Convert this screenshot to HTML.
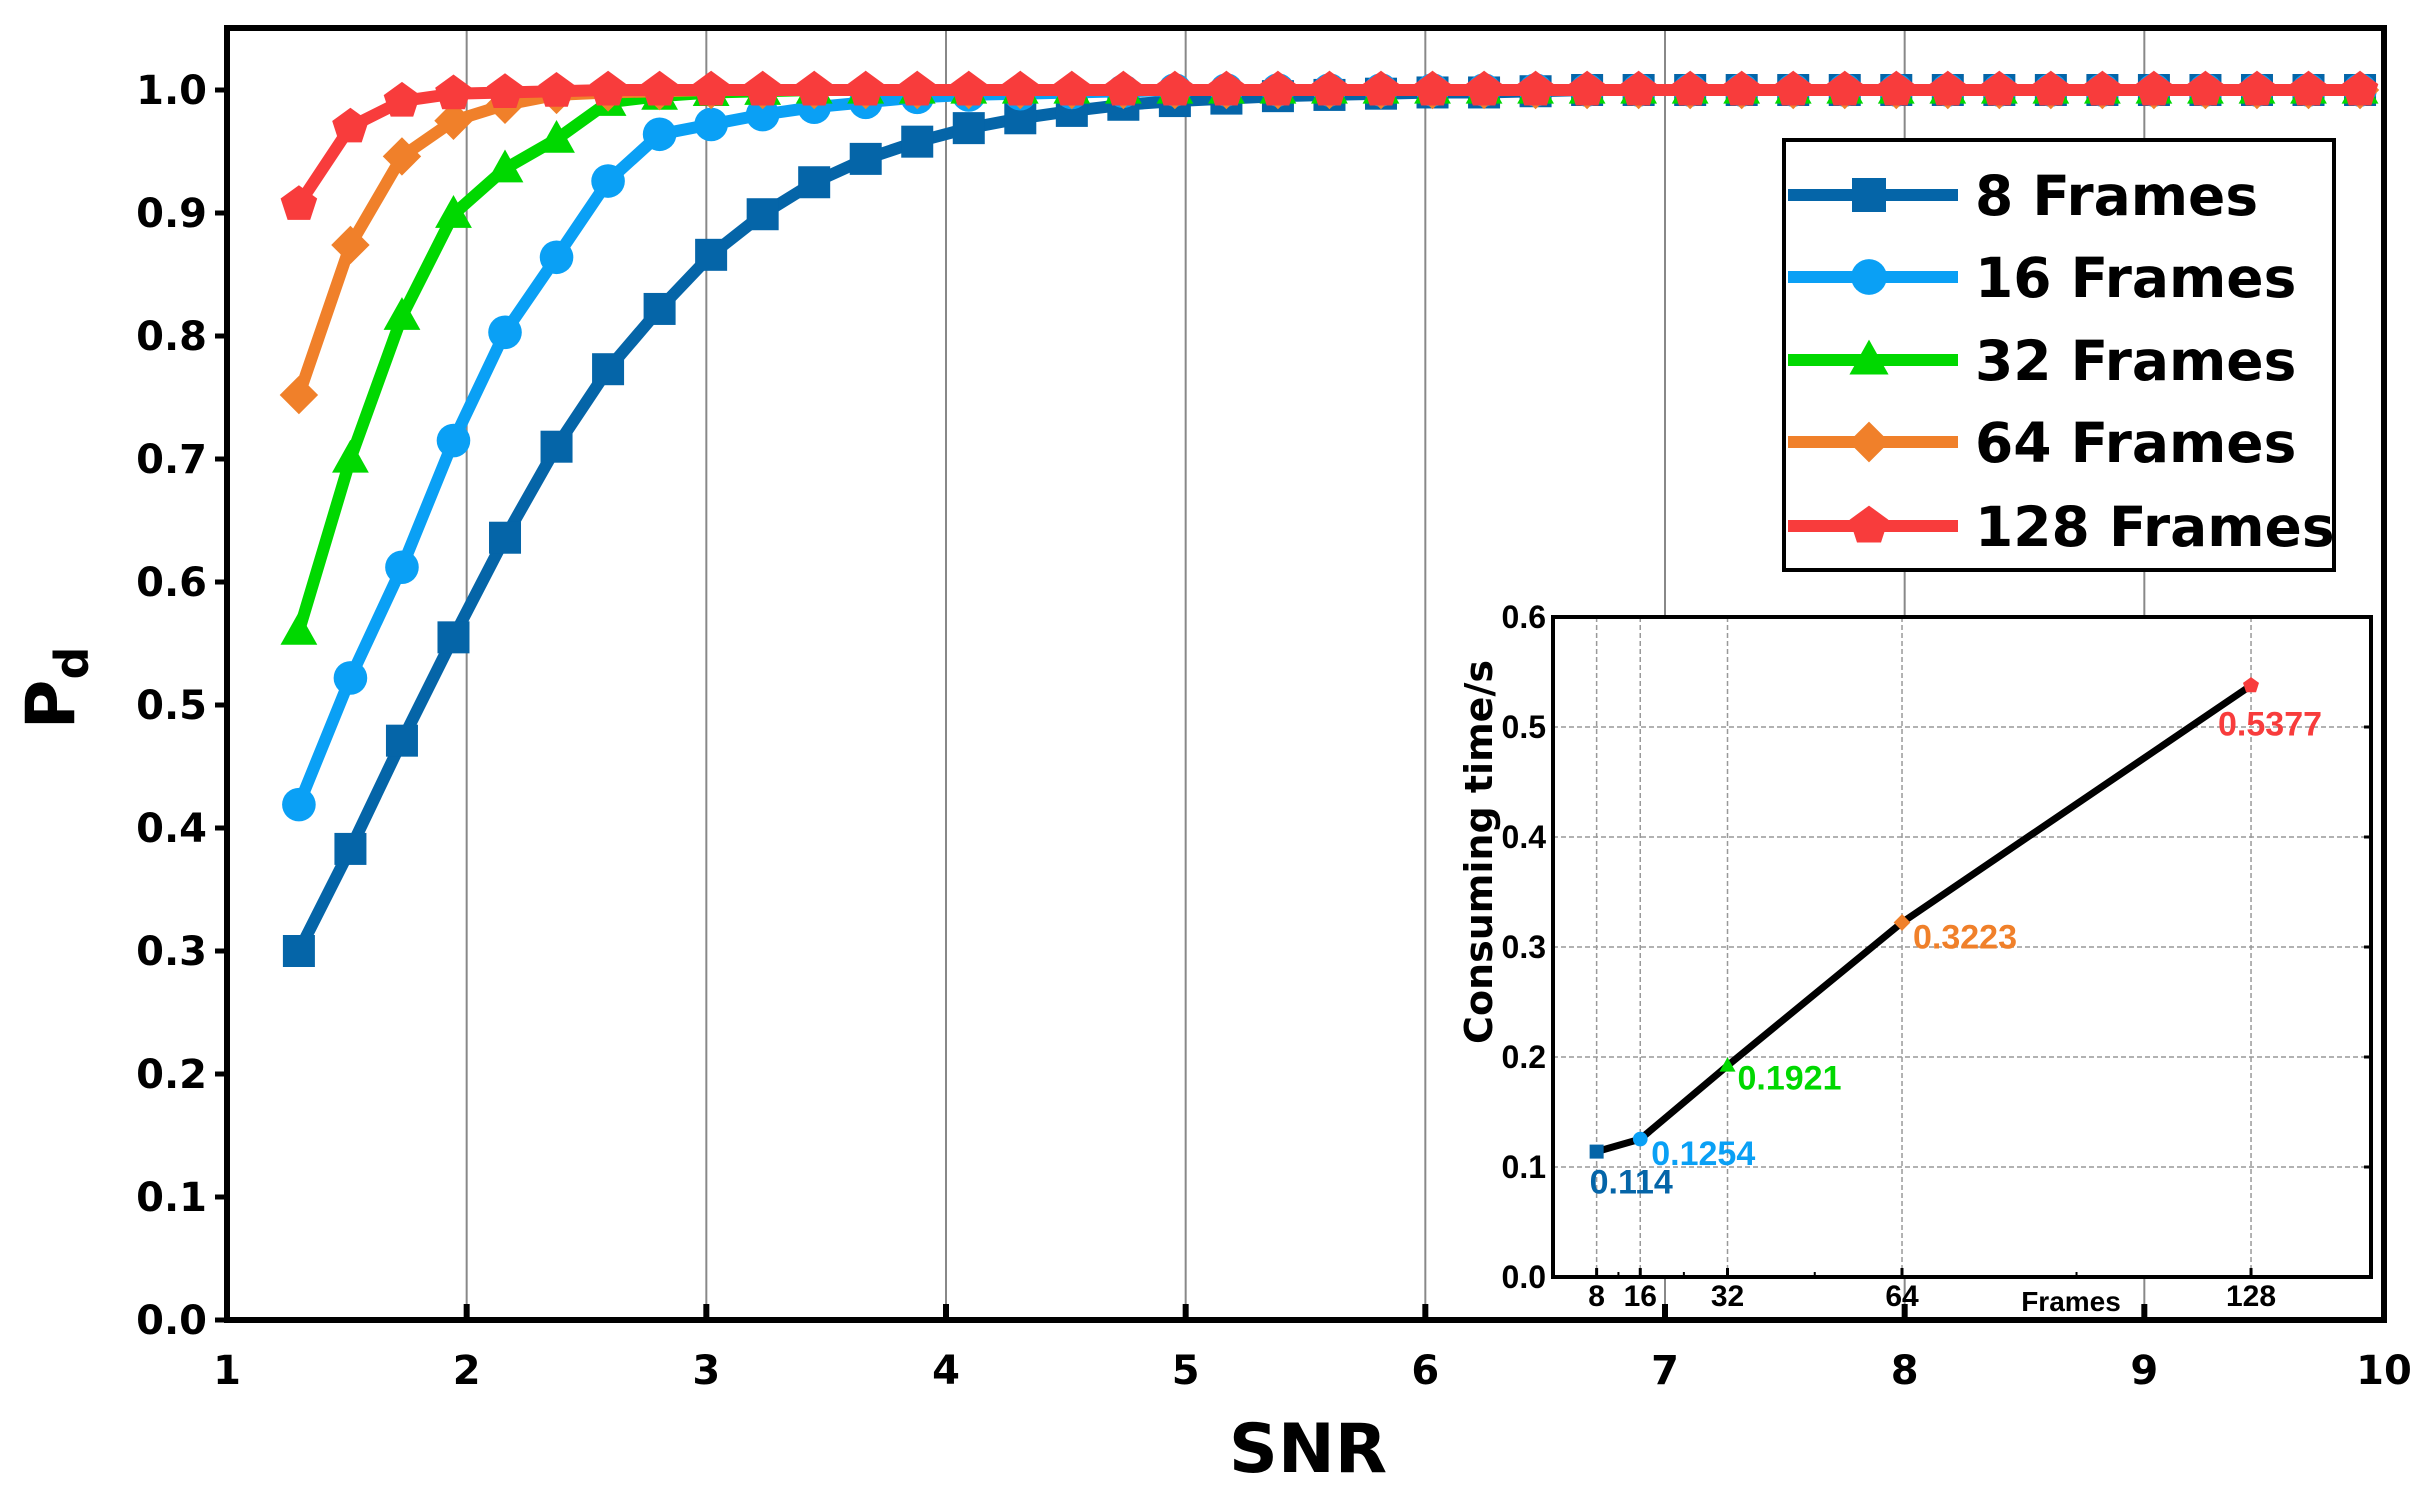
<!DOCTYPE html>
<html><head><meta charset="utf-8"><style>
html,body{margin:0;padding:0;background:#fff;}
svg{display:block;}
text{font-family:"DejaVu Sans","Liberation Sans",sans-serif;font-weight:bold;}
.in text{font-family:"Liberation Sans",sans-serif;}
</style></head><body>
<svg id="chart" width="2430" height="1492" viewBox="0 0 2430 1492" xmlns="http://www.w3.org/2000/svg"></svg>
<script>
const snrStart = 1.3, snrStep = 0.215, nPts = 41;
const s8 = [0.300,0.383,0.471,0.555,0.636,0.710,0.773,0.822,0.866,0.899,0.925,0.944,0.958,0.969,0.977,0.983,0.988,0.991,0.993,0.995,0.996,0.997,0.998,0.998,0.999];
const s16 = [0.419,0.522,0.612,0.715,0.803,0.864,0.926,0.964,0.972,0.980,0.986,0.990,0.994,0.996,0.997,0.998,0.999];
const s32 = [0.560,0.700,0.816,0.899,0.936,0.960,0.990,0.995,0.998,0.999];
const s64 = [0.752,0.874,0.946,0.975,0.988,0.996,0.998,0.999];
const s128 = [0.907,0.970,0.991,0.997,0.998,0.999];
const seriesNames = ["8 Frames","16 Frames","32 Frames","64 Frames","128 Frames"];
const seriesColors = ["#0565a8","#0aa0f5","#00d800","#f0802a","#f83c3c"];
const xTicks = [1,2,3,4,5,6,7,8,9,10];
const yTicks = [0,0.1,0.2,0.3,0.4,0.5,0.6,0.7,0.8,0.9,1.0];
const insetFrames = [8,16,32,64,128];
const insetTimes = [0.114,0.1254,0.1921,0.3223,0.5377];
const insetLabels = ["0.114","0.1254","0.1921","0.3223","0.5377"];
const insetYTicks = [0,0.1,0.2,0.3,0.4,0.5,0.6];
const insetMinor = [12,24,48,96];

const NS="http://www.w3.org/2000/svg";
const svg=document.getElementById('chart');
function mk(tag,attrs,parent){const e=document.createElementNS(NS,tag);for(const k in attrs)e.setAttribute(k,attrs[k]);(parent||svg).appendChild(e);return e;}
const L=227,R=2384,T=28,B=1320;
const X=v=>L+(v-1)*(R-L)/9;
const Y=v=>B-v*1230;

for(const t of xTicks){ if(t>1&&t<10){const g=mk('line',{x1:X(t),x2:X(t),y1:T,y2:B,stroke:'#888','stroke-width':2});

}}
function fullSeries(arr){const out=[];for(let i=0;i<nPts;i++)out.push(i<arr.length?arr[i]:1.0);return out;}
const allSeries=[s8,s16,s32,s64,s128].map(fullSeries);
function marker(kind,cx,cy,r,color,parent){
  let e;
  if(kind===0) e=mk('rect',{x:cx-r,y:cy-r,width:2*r,height:2*r,fill:color},parent);
  else if(kind===1) e=mk('circle',{cx:cx,cy:cy,r:r*1.05,fill:color},parent);
  else if(kind===2) e=mk('polygon',{points:`${cx},${cy-r*1.2} ${cx+r*1.15},${cy+r*0.85} ${cx-r*1.15},${cy+r*0.85}`,fill:color},parent);
  else if(kind===3) e=mk('polygon',{points:`${cx},${cy-r*1.2} ${cx+r*1.2},${cy} ${cx},${cy+r*1.2} ${cx-r*1.2},${cy}`,fill:color},parent);
  else {let p=[];for(let k=0;k<5;k++){const a=-Math.PI/2+k*2*Math.PI/5;p.push((cx+r*1.2*Math.cos(a)).toFixed(1)+','+(cy+r*1.2*Math.sin(a)).toFixed(1));}
    e=mk('polygon',{points:p.join(' '),fill:color},parent);}
  return e;
}
allSeries.forEach((vals,si)=>{
  const g=mk('g',{});
  
  
  const pts=vals.map((v,i)=>X(snrStart+i*snrStep).toFixed(1)+','+Y(v).toFixed(1)).join(' ');
  mk('polyline',{points:pts,fill:'none',stroke:seriesColors[si],'stroke-width':12,'stroke-linejoin':'round'},g);
  vals.forEach((v,i)=>{const m=marker(si,X(snrStart+i*snrStep),Y(v),16,seriesColors[si],g);
    
    });
});
const fr=mk('rect',{x:L,y:T,width:R-L,height:B-T,fill:'none',stroke:'#000','stroke-width':6});


for(const t of xTicks){mk('line',{x1:X(t),x2:X(t),y1:B,y2:B-16,stroke:'#000','stroke-width':6});
  const tx=mk('text',{x:X(t),y:1384,'font-size':40,'text-anchor':'middle'});tx.textContent=t;
  
  }
for(const t of yTicks){mk('line',{x1:L,x2:L-12,y1:Y(t),y2:Y(t),stroke:'#000','stroke-width':5});
  const tx=mk('text',{x:207,y:Y(t)+14,'font-size':40,'text-anchor':'end'});tx.textContent=t.toFixed(1);
  
  }
const xt=mk('text',{x:1308,y:1472,'font-size':68,'text-anchor':'middle'});xt.textContent='SNR';


const yt=mk('text',{x:0,y:0,'font-size':68,'text-anchor':'middle',transform:'translate(74,688) rotate(-90)'});
yt.innerHTML='P<tspan font-size="46" dy="14">d</tspan>';



const lg=mk('g',{});


mk('rect',{x:1784,y:140,width:550,height:430,fill:'#fff',stroke:'#000','stroke-width':4},lg);
const rowY=[195,277,360,442,526];
seriesNames.forEach((n,i)=>{
  const e=mk('g',{},lg);
  
  
  mk('line',{x1:1788,x2:1958,y1:rowY[i],y2:rowY[i],stroke:seriesColors[i],'stroke-width':12},e);
  marker(i,1869,rowY[i],17,seriesColors[i],e);
  const t=mk('text',{x:1975,y:rowY[i]+20,'font-size':55},e);t.textContent=n;
});

const ig=mk('g',{class:'in'});


const IL=1553,IR=2371,IT=617,IB=1277;
const IX=v=>IL+v*(IR-IL)/150;
const IY=v=>IB-v*(IB-IT)/0.6;
mk('rect',{x:IL,y:IT,width:IR-IL,height:IB-IT,fill:'#fff'},ig);
for(const t of insetYTicks){ if(t>0&&t<0.6) mk('line',{x1:IL,x2:IR,y1:IY(t),y2:IY(t),stroke:'#999','stroke-width':1.5,'stroke-dasharray':'5,3'},ig);
  mk('line',{x1:IR,x2:IR-7,y1:IY(t),y2:IY(t),stroke:'#000','stroke-width':3},ig);
  const tx=mk('text',{x:1546,y:IY(t)+11,'font-size':32,'text-anchor':'end'},ig);tx.textContent=t.toFixed(1);
  
  }
for(const f of insetFrames){mk('line',{x1:IX(f),x2:IX(f),y1:IT,y2:IB,stroke:'#999','stroke-width':1.5,'stroke-dasharray':'5,3'},ig);
  mk('line',{x1:IX(f),x2:IX(f),y1:IB,y2:IB-9,stroke:'#000','stroke-width':3},ig);
  const tx=mk('text',{x:IX(f),y:1306,'font-size':30,'text-anchor':'middle'},ig);tx.textContent=f;
  
  }
for(const f of insetMinor) mk('line',{x1:IX(f),x2:IX(f),y1:IB,y2:IB-5,stroke:'#000','stroke-width':2},ig);
mk('rect',{x:IL,y:IT,width:IR-IL,height:IB-IT,fill:'none',stroke:'#000','stroke-width':4},ig);
const ipts=insetFrames.map((f,i)=>IX(f).toFixed(1)+','+IY(insetTimes[i]).toFixed(1)).join(' ');
const il=mk('polyline',{points:ipts,fill:'none',stroke:'#000','stroke-width':7},ig);


const lblOff=[[-7,42],[11,26],[10,24],[11,26],[-33,50]];
insetFrames.forEach((f,i)=>{
  const m=marker(i,IX(f),IY(insetTimes[i]),7,seriesColors[i],ig);
  
  
  const t=mk('text',{x:IX(f)+lblOff[i][0],y:IY(insetTimes[i])+lblOff[i][1],'font-size':34,fill:seriesColors[i]},ig);
  t.textContent=insetLabels[i];
  
  
});
const fx=mk('text',{x:2071,y:1311,'font-size':28,'text-anchor':'middle'},ig);fx.textContent='Frames';


const cy=mk('text',{x:0,y:0,'font-size':38,'text-anchor':'middle',style:'font-family:"DejaVu Sans",sans-serif',transform:'translate(1492,852) rotate(-90)'},ig);cy.textContent='Consuming time/s';


</script>
</body></html>
